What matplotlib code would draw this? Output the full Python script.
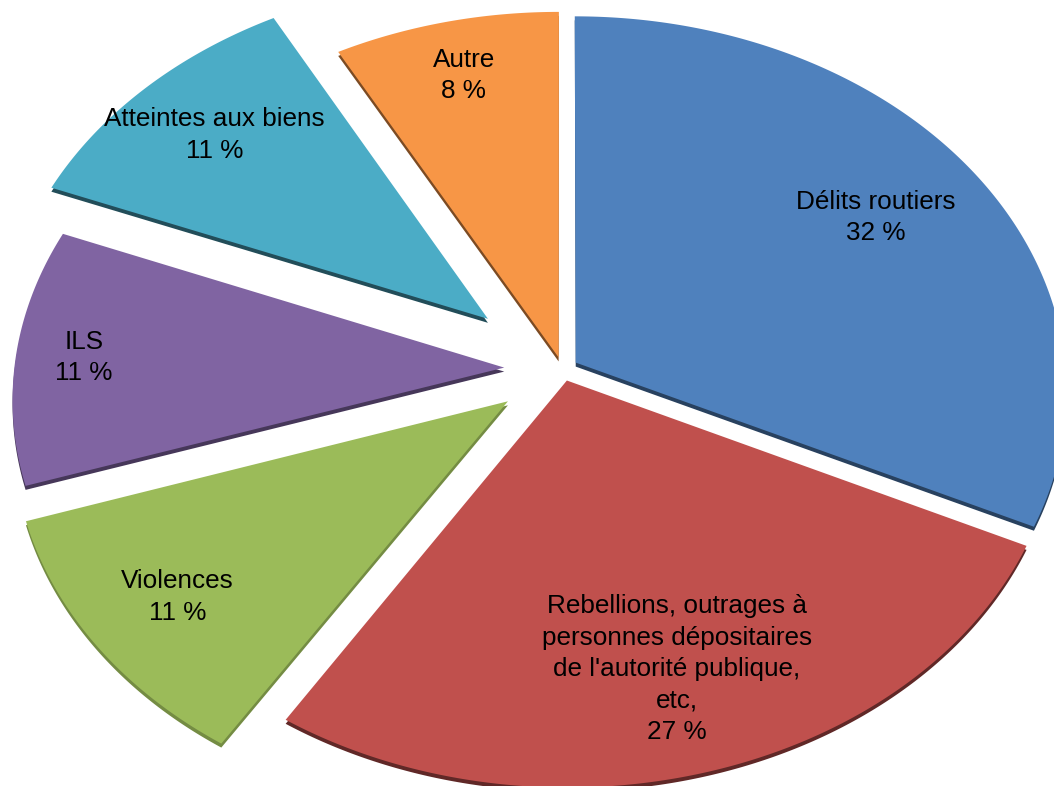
import numpy as np
import matplotlib
matplotlib.use("Agg")
import matplotlib.pyplot as plt
from matplotlib.colors import to_rgb

# categories and shares (%)
labels = ["Délits routiers",
          "Rebellions, outrages à\npersonnes dépositaires\nde l'autorité publique,\netc,",
          "Violences", "ILS", "Atteintes aux biens", "Autre"]
values = [32, 27, 11, 11, 11, 8]

colors = ["#4F81BD", "#C0504D", "#9BBB59", "#8064A2", "#4BACC6", "#F79646"]
rim_shade = [0.5, 0.5, 0.75, 0.55, 0.45, 0.5]
explode = [0.032, 0.032, 0.14, 0.119, 0.205, 0.032]
label_r = [0.75, 0.755, 0.81, 0.86, 0.79, 0.83]

W, H = 1054, 786
R = 490.0            # pixels per unit radius
cx, cy = 562.5, 369.0
tilt = 0.763         # vertical squash of the tilted disc
persp = 0.077        # perspective strength (far side smaller)
depth = 4.0 / R      # slice thickness, seen as a dark rim


def project(X, Y):
    w = 1 + persp * Y
    return X / w, tilt * Y / w


fig = plt.figure(figsize=(W / 100, H / 100), dpi=100)
ax = fig.add_axes([0, 0, 1, 1])
ax.set_xlim(-cx / R, (W - cx) / R)
ax.set_ylim(-(H - cy) / R, cy / R)
ax.axis("off")

fracs = np.array(values, dtype=float) / sum(values)
ends = 90 - 360 * np.cumsum(fracs)
starts = np.concatenate([[90], ends[:-1]])

tops = []
for i in range(len(values)):
    t1, t2 = np.radians(starts[i]), np.radians(ends[i])
    mid = (t1 + t2) / 2
    ox, oy = explode[i] * np.cos(mid), explode[i] * np.sin(mid)
    t = np.linspace(t1, t2, 200)
    X = np.concatenate([[ox], ox + np.cos(t), [ox]])
    Y = np.concatenate([[oy], oy + np.sin(t), [oy]])
    px, py = project(X, Y)
    rim = tuple(c * rim_shade[i] for c in to_rgb(colors[i]))
    ax.fill(px, py - depth, color=rim, lw=0, zorder=1)
    tops.append((px, py, colors[i]))

    lx, ly = project(ox + label_r[i] * np.cos(mid), oy + label_r[i] * np.sin(mid))
    pct = f"{round(fracs[i] * 100):d} %"
    ax.text(lx, ly, f"{labels[i]}\n{pct}", ha="center", va="center",
            fontsize=18.8, family="Liberation Sans", linespacing=1.39,
            zorder=5)

for px, py, c in tops:
    ax.fill(px, py, color=c, lw=0, zorder=2)

fig.savefig("out.png", dpi=100)
